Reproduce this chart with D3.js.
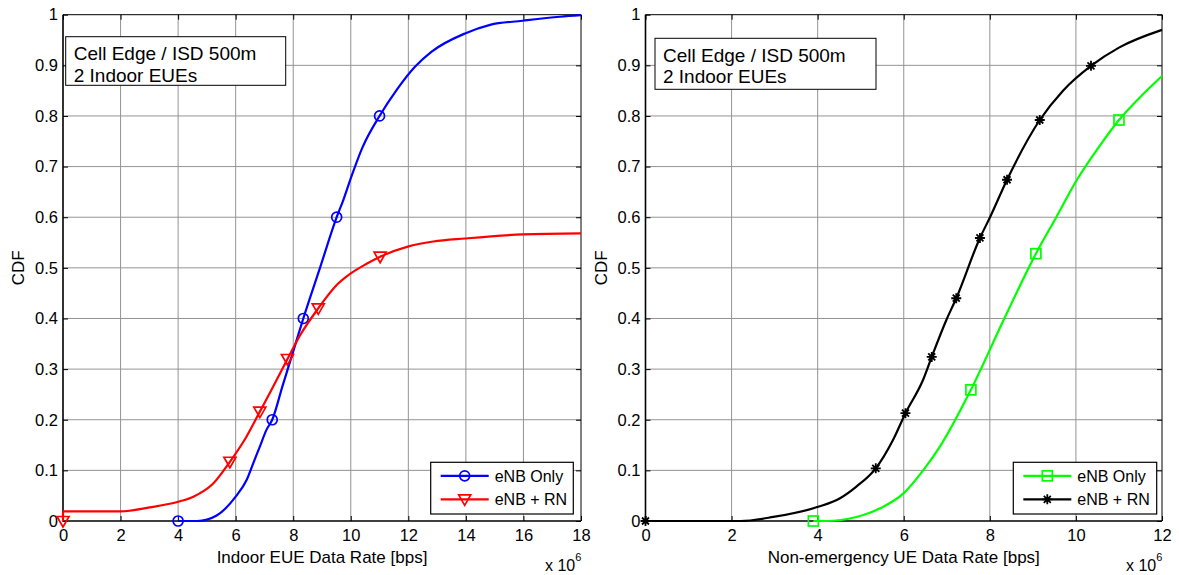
<!DOCTYPE html>
<html>
<head>
<meta charset="utf-8">
<script src="https://cdn.jsdelivr.net/npm/d3@7"></script>
<style>
  body { margin: 0; background: #fff; }
  svg { display: block; font-family: "Liberation Sans", Arial, sans-serif; }
</style>
</head>
<body>
<svg id="chart" width="1179" height="575"></svg>
<script>
// NOTE: data (x in units of 1e6 bps)
const yTicks = [0, 0.1, 0.2, 0.3, 0.4, 0.5, 0.6, 0.7, 0.8, 0.9, 1]
const leftXTicks = [0, 2, 4, 6, 8, 10, 12, 14, 16, 18]
const rightXTicks = [0, 2, 4, 6, 8, 10, 12]
const annotationLines = ['Cell Edge / ISD 500m', '2 Indoor EUEs']
const seriesNames = ['eNB Only', 'eNB + RN']

const blueX = [4, 4.66, 5.34, 6.0, 6.38, 6.61, 6.84, 7.07, 7.27, 7.63, 8.0, 8.35, 8.93, 9.51, 9.74, 9.97, 10.4, 11.0, 11.59, 12.23, 12.81, 13.97, 14.84, 15.97, 17.27, 18]
const blueY = [0, 0, 0.011, 0.048, 0.081, 0.114, 0.147, 0.18, 0.2, 0.267, 0.335, 0.4, 0.5, 0.6, 0.634, 0.672, 0.737, 0.8, 0.851, 0.897, 0.927, 0.963, 0.98, 0.988, 0.996, 0.999]
const blueMarks = [[4, 0], [7.27, 0.2], [8.35, 0.4], [9.51, 0.6], [11.0, 0.8]]

const redX = [0, 2, 3.02, 4, 4.53, 5.22, 5.8, 6.38, 6.84, 7.3, 7.8, 8.24, 8.87, 9.51, 10, 10.55, 11.02, 11.98, 12.87, 13.97, 15.97, 18]
const redY = [0.019, 0.019, 0.027, 0.038, 0.048, 0.074, 0.117, 0.167, 0.216, 0.265, 0.32, 0.367, 0.42, 0.466, 0.489, 0.508, 0.522, 0.542, 0.552, 0.558, 0.566, 0.568]
const redMarks = [[0, 0], [5.8, 0.117], [6.84, 0.216], [7.8, 0.32], [8.87, 0.42], [11.02, 0.522]]

const greenX = [3.9, 4.2, 4.9, 5.45, 6.0, 6.45, 6.84, 7.56, 8.32, 9.07, 9.55, 10.01, 10.56, 11.0, 11.5, 12]
const greenY = [0, 0, 0.008, 0.025, 0.055, 0.1, 0.147, 0.259, 0.397, 0.528, 0.601, 0.672, 0.742, 0.792, 0.838, 0.879]
const greenMarks = [[3.9, 0], [7.56, 0.259], [9.07, 0.528], [11.0, 0.792]]

const blackX = [0, 2.2, 2.97, 4.01, 4.52, 4.9, 5.35, 5.75, 6.04, 6.45, 6.65, 6.99, 7.22, 7.77, 8.01, 8.4, 9.16, 9.7, 10.35, 11.0, 12]
const blackY = [0, 0, 0.008, 0.028, 0.045, 0.068, 0.104, 0.16, 0.213, 0.279, 0.324, 0.397, 0.44, 0.559, 0.601, 0.674, 0.792, 0.85, 0.899, 0.935, 0.97]
const blackMarks = [[0, 0], [5.35, 0.104], [6.04, 0.213], [6.65, 0.324], [7.22, 0.44], [7.77, 0.559], [8.4, 0.674], [9.16, 0.792], [10.35, 0.899]]

const svg = d3.select('#chart')
const FONT = 16.5

// NOTE: marker painters, MATLAB style
const drawMarker = (g, type, color, cx, cy) => {
  if (type === 'o') {
    g.append('circle').attr('cx', cx).attr('cy', cy).attr('r', 5)
      .attr('fill', 'none').attr('stroke', color).attr('stroke-width', 1.7)
  } else if (type === 'v') {
    g.append('path')
      .attr('d', `M${cx - 6},${cy - 4.5}L${cx + 6},${cy - 4.5}L${cx},${cy + 6}Z`)
      .attr('fill', 'none').attr('stroke', color).attr('stroke-width', 1.7)
  } else if (type === 's') {
    g.append('rect').attr('x', cx - 5).attr('y', cy - 5).attr('width', 10).attr('height', 10)
      .attr('fill', 'none').attr('stroke', color).attr('stroke-width', 1.7)
  } else if (type === '*') {
    const r = 5
    const d = r * 0.7
    g.append('path')
      .attr('d', `M${cx - r},${cy}L${cx + r},${cy}M${cx},${cy - r}L${cx},${cy + r}` +
        `M${cx - d},${cy - d}L${cx + d},${cy + d}M${cx - d},${cy + d}L${cx + d},${cy - d}`)
      .attr('stroke', color).attr('stroke-width', 1.8)
    g.append('circle').attr('cx', cx).attr('cy', cy).attr('r', 2.4).attr('fill', color)
  }
}

function drawPanel({ x0, x1, y0, y1, xMax, xTicks, xLabel, series, box, legend }) {
  const x = d3.scaleLinear().domain([0, xMax]).range([x0, x1])
  const y = d3.scaleLinear().domain([0, 1]).range([y0, y1])
  const g = svg.append('g')

  // NOTE: grid
  const grid = g.append('g').attr('stroke', '#939393').attr('stroke-width', 1)
  xTicks.slice(1, -1).forEach(t => {
    grid.append('line').attr('x1', x(t)).attr('x2', x(t)).attr('y1', y0).attr('y2', y1)
  })
  yTicks.slice(1, -1).forEach(t => {
    grid.append('line').attr('x1', x0).attr('x2', x1).attr('y1', y(t)).attr('y2', y(t))
  })

  // NOTE: axes, ticks inside
  const styleAxis = sel => {
    sel.select('.domain').remove()
    sel.selectAll('.tick line').attr('stroke', '#000')
    sel.selectAll('.tick text').attr('fill', '#000').attr('font-size', FONT)
      .attr('font-family', '"Liberation Sans", Arial, sans-serif')
  }
  g.append('g').attr('transform', `translate(0,${y0})`)
    .call(d3.axisBottom(x).tickValues(xTicks).tickFormat(d3.format('d')).tickSize(-5).tickPadding(8))
    .call(styleAxis)
  g.append('g').attr('transform', `translate(0,${y1})`)
    .call(d3.axisTop(x).tickValues(xTicks).tickFormat('').tickSize(-5))
    .call(styleAxis)
  g.append('g').attr('transform', `translate(${x0},0)`)
    .call(d3.axisLeft(y).tickValues(yTicks).tickFormat(d3.format('~g')).tickSize(-5).tickPadding(5))
    .call(styleAxis)
  g.append('g').attr('transform', `translate(${x1},0)`)
    .call(d3.axisRight(y).tickValues(yTicks).tickFormat('').tickSize(-5))
    .call(styleAxis)

  // NOTE: box
  g.append('path')
    .attr('d', `M${x0},${y1}H${x1}V${y0}`)
    .attr('fill', 'none').attr('stroke', '#000').attr('stroke-width', 1)
  g.append('path')
    .attr('d', `M${x0},${y1}V${y0}H${x1}`)
    .attr('fill', 'none').attr('stroke', '#000').attr('stroke-width', 1.6)

  // NOTE: curves
  const line = d3.line().x(d => x(d[0])).y(d => y(d[1])).curve(d3.curveMonotoneX)
  series.forEach(s => {
    const pts = s.xs.map((v, i) => [v, s.ys[i]])
    const first = s.marks[0]
    if (first[0] === pts[0][0] && first[1] !== pts[0][1]) {
      g.append('line').attr('x1', x(first[0])).attr('x2', x(pts[0][0]))
        .attr('y1', y(first[1])).attr('y2', y(pts[0][1]))
        .attr('stroke', s.color).attr('stroke-width', 2.2)
    }
    g.append('path').datum(pts).attr('d', line)
      .attr('fill', 'none').attr('stroke', s.color).attr('stroke-width', 2.2)
    const mg = g.append('g')
    s.marks.forEach(m => drawMarker(mg, s.marker, s.color, x(m[0]), y(m[1])))
  })

  // NOTE: annotation box
  g.append('rect').attr('x', box.x).attr('y', box.y).attr('width', box.w).attr('height', box.h)
    .attr('fill', '#fff').attr('stroke', '#000').attr('stroke-width', 1)
  annotationLines.forEach((t, i) => {
    g.append('text').attr('x', box.x + 8).attr('y', box.y + 23.5 + i * 21.5)
      .attr('font-size', 19).attr('fill', '#000').text(t)
  })

  // NOTE: legend
  g.append('rect').attr('x', legend.x).attr('y', legend.y).attr('width', legend.w).attr('height', legend.h)
    .attr('fill', '#fff').attr('stroke', '#000').attr('stroke-width', 1.2)
  series.forEach((s, i) => {
    const ly = legend.y + 13.5 + i * 23.5
    const lx = legend.x + 10
    g.append('line').attr('x1', lx).attr('x2', lx + 48).attr('y1', ly).attr('y2', ly)
      .attr('stroke', s.color).attr('stroke-width', 2.2)
    drawMarker(g, s.marker, s.color, lx + 24, ly)
    g.append('text').attr('x', lx + 54).attr('y', ly + 6)
      .attr('font-size', 16).attr('fill', '#000').text(seriesNames[i])
  })

  // NOTE: axis labels
  g.append('text').attr('x', (x0 + x1) / 2).attr('y', 563)
    .attr('text-anchor', 'middle').attr('font-size', 17).text(xLabel)
  g.append('text')
    .attr('transform', `translate(${x0 - 39},${(y0 + y1) / 2}) rotate(-90)`)
    .attr('text-anchor', 'middle').attr('font-size', 17).text('CDF')
  const mult = g.append('text').attr('x', x1 - 36).attr('y', 571).attr('font-size', 16)
  mult.append('tspan').text('x 10')
  mult.append('tspan').attr('dy', -10).attr('font-size', 11).text('6')
}

drawPanel({
  x0: 63, x1: 581, y0: 521, y1: 14.7, xMax: 18, xTicks: leftXTicks,
  xLabel: 'Indoor EUE Data Rate [bps]',
  series: [
    { xs: blueX, ys: blueY, marks: blueMarks, color: '#0000ff', marker: 'o' },
    { xs: redX, ys: redY, marks: redMarks, color: '#ff0000', marker: 'v' },
  ],
  box: { x: 65.7, y: 36.7, w: 220, h: 48.6 },
  legend: { x: 430.7, y: 462.3, w: 142.6, h: 51.7 },
})

drawPanel({
  x0: 645.5, x1: 1162, y0: 521, y1: 14.7, xMax: 12, xTicks: rightXTicks,
  xLabel: 'Non-emergency UE Data Rate [bps]',
  series: [
    { xs: greenX, ys: greenY, marks: greenMarks, color: '#00ff00', marker: 's' },
    { xs: blackX, ys: blackY, marks: blackMarks, color: '#000000', marker: '*' },
  ],
  box: { x: 655, y: 38.3, w: 221, h: 51 },
  legend: { x: 1013.3, y: 462.3, w: 143.4, h: 51.7 },
})
</script>
</body>
</html>
